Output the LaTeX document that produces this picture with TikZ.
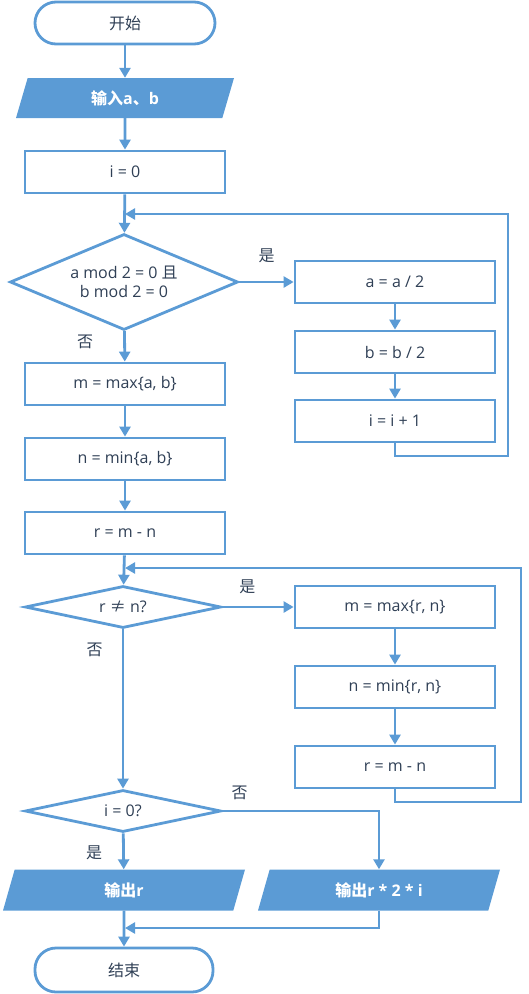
\documentclass[tikz,border=0pt]{standalone}
\usepackage{fontspec}
\setmainfont{Open Sans}
\newfontfamily\cjk{Noto Sans CJK SC}
\usetikzlibrary{arrows.meta,shapes.geometric}
\newcommand{\zh}[1]{{\cjk #1}}
\newcommand{\flowsize}{\fontsize{16}{19}\selectfont}
\definecolor{flowblue}{HTML}{5B9BD5}
\definecolor{flowtext}{HTML}{2F3F55}
\tikzset{
	line/.style={draw=flowblue, line width=2.8pt},
	arr/.style={line, -{Triangle[length=10pt,width=11pt]}},
	term/.style={line, rectangle, rounded corners=21pt, minimum width=180pt, minimum height=42pt, text=flowtext},
	proc/.style={line, rectangle, minimum width=200pt, minimum height=42pt, text=flowtext},
	decision/.style={line, diamond, inner sep=0pt, align=center, text=flowtext},
	io/.style={trapezium, trapezium left angle=62, trapezium right angle=118, trapezium stretches body,
		fill=flowblue, text=white, minimum width=218pt, minimum height=40pt, font=\flowsize\bfseries},
	lbl/.style={inner sep=0pt, text=flowtext, font=\flowsize\cjk},
}
\begin{document}
\begin{tikzpicture}[x=1pt, y=-1pt, font=\flowsize]
	\useasboundingbox (0,0) rectangle (529,994);
	%%%%% nodes %%%%%
	\node[term] (start) at (125,23) {\zh{开始}};
	\node[io] (input) at (125,98) {\zh{输入}a\zh{、}b};
	\node[proc] (init) at (125,172) {i = 0};
	
	\node[decision, aspect=2.375, minimum width=228pt, minimum height=96pt] (even) at (124,282) {a mod 2 = 0 \zh{且}\\b mod 2 = 0};
	\node[proc] (halfa) at (395,282) {a = a / 2};
	\node[proc] (halfb) at (395,352) {b = b / 2};
	\node[proc] (inc) at (395,421) {i = i + 1};
	
	\node[proc] (maxab) at (125,384) {m = max\{a, b\}};
	\node[proc] (minab) at (125,459) {n = min\{a, b\}};
	\node[proc] (diff) at (125,533) {r = m - n};
	
	\node[decision, aspect=4.6, minimum width=196pt, minimum height=42pt] (neq) at (123,607) {r \zh{≠} n?};
	\node[proc] (maxrn) at (395,607) {m = max\{r, n\}};
	\node[proc] (minrn) at (395,687) {n = min\{r, n\}};
	\node[proc] (diffb) at (395,767) {r = m - n};
	
	\node[decision, aspect=4.6, minimum width=196pt, minimum height=42pt] (zero) at (123,811) {i = 0?};
	\node[io, minimum width=242pt, minimum height=41pt] (outr) at (124,890) {\zh{输出}r};
	\node[io, minimum width=242pt, minimum height=41pt] (outri) at (379,890) {\zh{输出}r * 2 * i};
	\node[term, minimum width=178pt, minimum height=44pt] (stop) at (124,970) {\zh{结束}};
	
	\coordinate (join1) at (125,214);
	\coordinate (loop1) at (508,456);
	\coordinate (join2) at (125,568);
	\coordinate (loop2) at (521,802);
	\coordinate (join3) at (125,928);
	
	%%%%% connectors %%%%%
	\draw[arr] (start) -- (input);
	\draw[arr] (input) -- (init);
	\draw[arr] (init) -- (even);
	\draw[arr] (even) -- node[lbl, pos=.5, above=18pt] {是} (halfa);
	\draw[arr] (halfa) -- (halfb);
	\draw[arr] (halfb) -- (inc);
	\draw[arr] (inc.south) |- (loop1) |- (join1);
	\draw[arr] (even) -- node[lbl, pos=.35, left=30pt] {否} (maxab);
	\draw[arr] (maxab) -- (minab);
	\draw[arr] (minab) -- (diff);
	\draw[arr] (diff) -- (neq);
	\draw[arr] (neq) -- node[lbl, pos=.35, above=12pt] {是} (maxrn);
	\draw[arr] (maxrn) -- (minrn);
	\draw[arr] (minrn) -- (diffb);
	\draw[arr] (diffb.south) |- (loop2) |- (join2);
	\draw[arr] (neq) -- node[lbl, pos=.13, left=19pt] {否} (zero);
	\draw[arr] (zero.east) -| node[lbl, pos=.055, above=10pt] {否} (outri.north);
	\draw[arr] (zero) -- node[lbl, pos=.55, left=20pt] {是} (outr);
	\draw[arr] (outr) -- (stop);
	\draw[arr] (outri.south) |- (join3);
\end{tikzpicture}
\end{document}
